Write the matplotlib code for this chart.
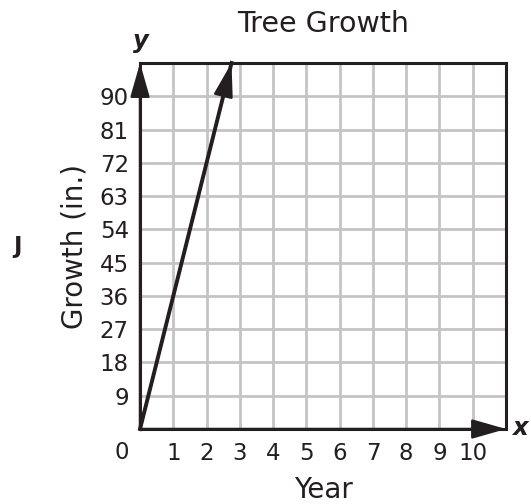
import matplotlib.pyplot as plt

# Data
years = [0, 2.75]
growth = [0, 99]
x_ticks = [1, 2, 3, 4, 5, 6, 7, 8, 9, 10]
y_ticks = [9, 18, 27, 36, 45, 54, 63, 72, 81, 90]

plt.rcParams['font.family'] = 'DejaVu Sans'
ink = '#231f20'
fs = 16.5
fs_lab = 20

fig = plt.figure(figsize=(5.31, 5.04), dpi=100)
ax = fig.add_axes([0.2637, 0.1488, 0.6893, 0.7262])
ax.set_xlim(0, 11)
ax.set_ylim(0, 99)

# grid
for gx in range(1, 11):
    ax.axvline(gx, color='#c4c4c6', lw=2, zorder=1)
for gy in range(9, 99, 9):
    ax.axhline(gy, color='#c4c4c6', lw=2, zorder=1)

for s in ax.spines.values():
    s.set_color(ink)
    s.set_linewidth(2.2)

ax.set_xticks(x_ticks)
ax.set_yticks(y_ticks)
ax.tick_params(length=0, labelsize=fs, colors=ink)
ax.tick_params(axis='x', pad=9)
ax.tick_params(axis='y', pad=8)
ax.text(-0.54, -3.3, '0', ha='center', va='top', fontsize=fs, color=ink)

# axis arrows
arrow = dict(arrowstyle='-|>,head_length=1.05,head_width=0.3', color=ink,
             lw=1.8, shrinkA=0, shrinkB=0, mutation_scale=20)
ax.annotate('', xy=(0, 99), xytext=(0, 0), arrowprops=arrow, annotation_clip=False, zorder=5)
ax.annotate('', xy=(11, 0), xytext=(0, 0), arrowprops=arrow, annotation_clip=False, zorder=5)

# data line
ax.plot(years, growth, color=ink, lw=2.8, zorder=4, clip_on=False)
ax.annotate('', xy=(years[1], growth[1]), xytext=(years[0], growth[0]),
            arrowprops=arrow, annotation_clip=False, zorder=6)

ax.text(0.02, 101.8, 'y', fontsize=fs + 1, fontweight='bold', style='italic',
        ha='center', va='bottom', color=ink)
ax.text(11.2, 0.2, 'x', fontsize=fs + 1, fontweight='bold', style='italic',
        ha='left', va='center', color=ink)

ax.set_title('Tree Growth', fontsize=fs_lab + 0.5, color=ink, pad=22)
ax.set_xlabel('Year', fontsize=fs_lab, color=ink, labelpad=8)
ax.set_ylabel('Growth (in.)', fontsize=fs_lab, color=ink, labelpad=8)

fig.text(18 / 531, 1 - 247 / 504, 'J', fontsize=fs, fontweight='bold',
         ha='center', va='center', color=ink)

fig.savefig('out.png', dpi=100)
